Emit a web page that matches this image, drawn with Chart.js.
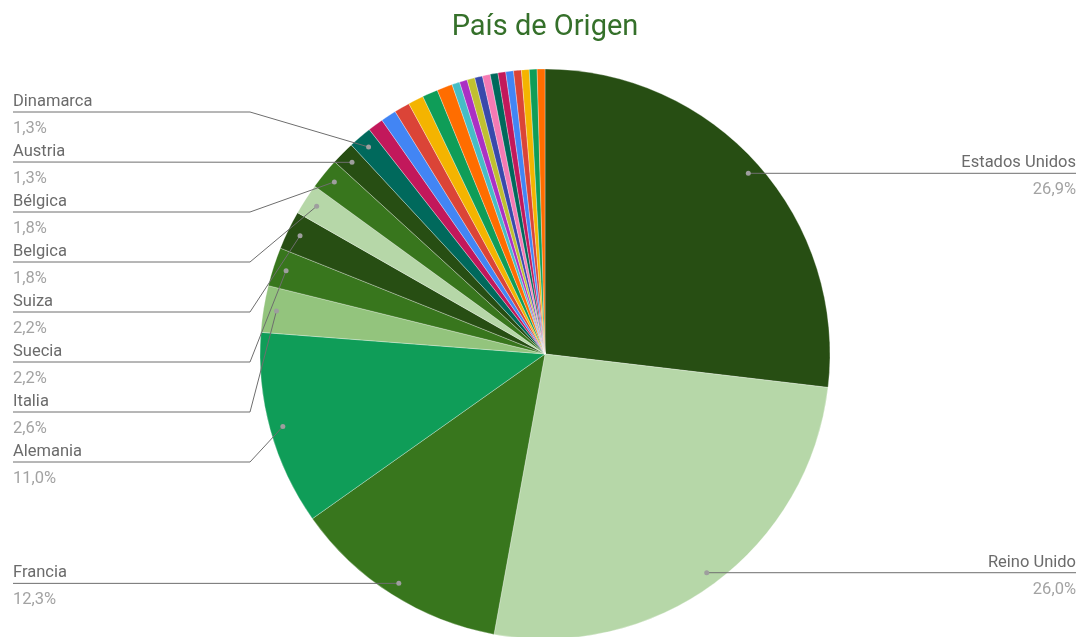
<!DOCTYPE html>
<html>
<head>
<meta charset="utf-8">
<script src="https://cdn.jsdelivr.net/npm/chart.js@4"></script>
<style>
    body { margin: 0; background: #ffffff; }
    canvas { display: block; }
</style>
</head>
<body>
<canvas id="chart" width="1085" height="637"></canvas>
<script>
// datos: número de registros por país
const paises = [
    'Estados Unidos', 'Reino Unido', 'Francia', 'Alemania', 'Italia', 'Suecia',
    'Suiza', 'Belgica', 'Bélgica', 'Austria', 'Dinamarca',
    'País 12', 'País 13', 'País 14', 'País 15', 'País 16', 'País 17',
    'País 18', 'País 19', 'País 20', 'País 21', 'País 22', 'País 23',
    'País 24', 'País 25', 'País 26', 'País 27', 'País 28', 'País 29'
];
const cantidades = [
    61, 59, 28, 25, 6, 5,
    5, 4, 4, 3, 3,
    2, 2, 2, 2, 2, 2,
    1, 1, 1, 1, 1, 1,
    1, 1, 1, 1, 1, 1
];
const colores = [
    '#274e13', '#b6d7a8', '#38761d', '#0f9d58', '#93c47d', '#38761d',
    '#274e13', '#b6d7a8', '#38761d', '#274e13', '#00695c',
    '#c2185b', '#4285f4', '#db4437', '#f4b400', '#0f9d58', '#ff6d00',
    '#46bdc6', '#ab30c4', '#c0c030', '#3949ab', '#f57ab4', '#00695c',
    '#c2185b', '#4285f4', '#db4437', '#f4b400', '#0f9d58', '#ff6d00'
];
const titulo = 'País de Origen';
const minEtiqueta = 3; // porciones más pequeñas no llevan etiqueta

const FONT = "Roboto, 'Noto Sans', Arial, sans-serif";
const total = cantidades.reduce((a, b) => a + b, 0);

function formatoPct(v) {
    return (v / total * 100).toFixed(1).replace('.', ',') + '%';
}

// reparte las etiquetas en grupos para que no se solapen
function repartir(items, gap, minY, maxY) {
    items.sort((a, b) => a.want - b.want);
    let groups = items.map(it => ({ items: [it], mean: it.want }));
    const place = g => {
        const h = (g.items.length - 1) * gap;
        let top = g.mean - h / 2;
        top = Math.max(minY, Math.min(maxY - h, top));
        g.top = top;
        g.bottom = top + h;
    };
    groups.forEach(place);
    let merged = true;
    while (merged) {
        merged = false;
        for (let i = 0; i < groups.length - 1; i++) {
            const a = groups[i], b = groups[i + 1];
            if (b.top - a.bottom < gap) {
                const all = a.items.concat(b.items);
                const g = { items: all, mean: all.reduce((s, it) => s + it.want, 0) / all.length };
                place(g);
                groups.splice(i, 2, g);
                merged = true;
                break;
            }
        }
    }
    groups.forEach(g => g.items.forEach((it, k) => { it.y = g.top + k * gap; }));
}

const etiquetasPlugin = {
    id: 'etiquetas',
    afterDraw(chart) {
        const ctx = chart.ctx;
        const meta = chart.getDatasetMeta(0);
        const left = [], right = [];
        meta.data.forEach((arc, i) => {
            if (cantidades[i] < minEtiqueta) return;
            const p = arc.getProps(['x', 'y', 'startAngle', 'endAngle', 'outerRadius'], true);
            const mid = (p.startAngle + p.endAngle) / 2;
            const r = p.outerRadius - 13;
            const dx = p.x + Math.cos(mid) * r;
            const dy = p.y + Math.sin(mid) * r;
            const item = { i, dx, dy, want: dy };
            if (Math.cos(mid) >= 0) right.push(item); else left.push(item);
        });
        repartir(left, 50, 112, 600);
        repartir(right, 50, 112, 600);

        ctx.save();
        ctx.lineWidth = 1;
        ctx.strokeStyle = '#6e6e6e';

        const dibujar = (it, side) => {
            const x0 = side === 'left' ? 13 : 1076;
            const knee = side === 'left' ? 250 : 840;
            ctx.beginPath();
            ctx.moveTo(x0, it.y);
            if (Math.abs(it.y - it.dy) > 1) ctx.lineTo(knee, it.y);
            ctx.lineTo(it.dx, it.dy);
            ctx.stroke();

            ctx.fillStyle = '#9e9e9e';
            ctx.beginPath();
            ctx.arc(it.dx, it.dy, 2.5, 0, Math.PI * 2);
            ctx.fill();

            ctx.textAlign = side === 'left' ? 'left' : 'right';
            ctx.textBaseline = 'alphabetic';
            ctx.font = '16.5px ' + FONT;
            ctx.fillStyle = '#6b6b6b';
            ctx.fillText(paises[it.i], x0, it.y - 6);
            ctx.fillStyle = '#a3a3a3';
            ctx.fillText(formatoPct(cantidades[it.i]), x0, it.y + 21);
        };
        left.forEach(it => dibujar(it, 'left'));
        right.forEach(it => dibujar(it, 'right'));
        ctx.restore();
    }
};

new Chart(document.getElementById('chart'), {
    type: 'pie',
    data: {
        labels: paises,
        datasets: [{
            data: cantidades,
            backgroundColor: colores,
            borderColor: 'rgba(255,255,255,0.6)',
            borderWidth: 0.5,
            radius: 285
        }]
    },
    options: {
        responsive: false,
        animation: false,
        layout: { padding: { left: 5, right: 0, top: 0, bottom: 0 } },
        plugins: {
            legend: { display: false },
            tooltip: { enabled: false },
            title: {
                display: true,
                text: titulo,
                color: '#35702a',
                font: { family: FONT, size: 29, weight: 'normal' },
                padding: { top: 10, bottom: 26.2 }
            }
        }
    },
    plugins: [etiquetasPlugin]
});
</script>
</body>
</html>
